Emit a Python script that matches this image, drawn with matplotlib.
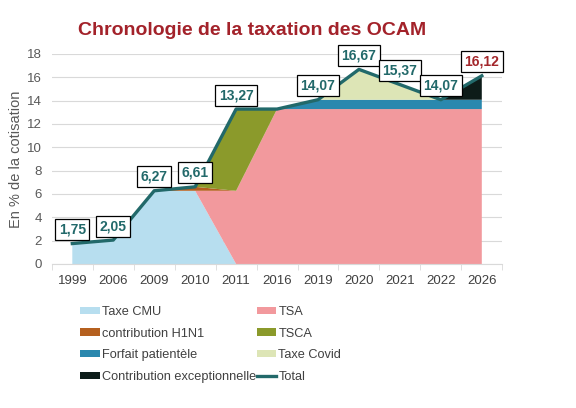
import matplotlib
matplotlib.use("Agg")
import matplotlib.pyplot as plt
from matplotlib.patches import Patch
from matplotlib.lines import Line2D
import numpy as np

plt.rcParams['font.family'] = ['Liberation Sans', 'DejaVu Sans']

years = ['1999', '2006', '2009', '2010', '2011', '2016', '2019', '2020', '2021', '2022', '2026']
taxe_cmu = [1.75, 2.05, 6.27, 6.27, 0, 0, 0, 0, 0, 0, 0]
tsa = [0, 0, 0, 0, 6.27, 13.27, 13.27, 13.27, 13.27, 13.27, 13.27]
h1n1 = [0, 0, 0, 0.34, 0, 0, 0, 0, 0, 0, 0]
tsca = [0, 0, 0, 0, 7.0, 0, 0, 0, 0, 0, 0]
forfait = [0, 0, 0, 0, 0, 0, 0.8, 0.8, 0.8, 0.8, 0.8]
covid = [0, 0, 0, 0, 0, 0, 0, 2.6, 1.3, 0, 0]
exceptionnelle = [0, 0, 0, 0, 0, 0, 0, 0, 0, 0, 2.05]
total = [1.75, 2.05, 6.27, 6.61, 13.27, 13.27, 14.07, 16.67, 15.37, 14.07, 16.12]
total_labels = ['1,75', '2,05', '6,27', '6,61', '13,27', '13,27', '14,07', '16,67', '15,37', '14,07', '16,12']
show_label = [True, True, True, True, True, False, True, True, True, True, True]

series_names = ['Taxe CMU', 'TSA', 'contribution H1N1', 'TSCA',
                'Forfait patientèle', 'Taxe Covid', 'Contribution exceptionnelle']
colors = ['#B7DEEF', '#F2999D', '#B5601F', '#8B9A2B', '#2A88AE', '#DDE5B6', '#0D1C19']
line_color = '#22696A'

fig = plt.figure(figsize=(5.76, 4.08), dpi=100)
ax = fig.add_axes([0.09, 0.353, 0.782, 0.515])

x = np.arange(len(years))
ax.stackplot(x, taxe_cmu, tsa, h1n1, tsca, forfait, covid, exceptionnelle,
             colors=colors, linewidth=0, zorder=2)
ax.plot(x, total, color=line_color, linewidth=2.4, zorder=3, solid_joinstyle='round')

for i, (v, lab, s) in enumerate(zip(total, total_labels, show_label)):
    if not s:
        continue
    col = '#A3262B' if i == len(total) - 1 else line_color
    ax.annotate(lab, (i, v), xytext=(0, 10), textcoords='offset points',
                ha='center', va='center', fontsize=10, fontweight='bold', color=col,
                bbox=dict(boxstyle='square,pad=0.25', fc='white', ec='black', lw=0.9),
                zorder=5)

ax.set_xlim(-0.5, len(years) - 0.5)
ax.set_ylim(0, 18)
ax.set_yticks(np.arange(0, 19, 2))
ax.set_xticks(x)
ax.set_xticklabels(years)
ax.set_xticks(np.arange(-0.5, len(years), 1), minor=True)
ax.tick_params(axis='x', which='major', length=0, pad=8, labelsize=9.5, labelcolor='#404040')
ax.tick_params(axis='x', which='minor', length=4, color='#D9D9D9')
ax.tick_params(axis='y', length=0, pad=7, labelsize=9.5, labelcolor='#595959')
ax.grid(axis='y', color='#D9D9D9', linewidth=0.8, zorder=0)
ax.set_axisbelow(True)
for sp in ['top', 'right', 'left']:
    ax.spines[sp].set_visible(False)
ax.spines['bottom'].set_color('#D9D9D9')
ax.set_ylabel('En % de la cotisation', fontsize=10.5, color='#595959', labelpad=3)

fig.text(0.438, 0.926, 'Chronologie de la taxation des OCAM', ha='center', va='center',
         fontsize=14, fontweight='bold', color='#A3222A')

handles = [Patch(facecolor=c, edgecolor='none') for c in colors]
handles.append(Line2D([0], [0], color=line_color, linewidth=2.4))
labels = series_names + ['Total']
order_col1 = [0, 2, 4, 6]
order_col2 = [1, 3, 5, 7]
h_ord = [handles[i] for i in order_col1] + [handles[i] for i in order_col2]
l_ord = [labels[i] for i in order_col1] + [labels[i] for i in order_col2]
leg = fig.legend(h_ord, l_ord, ncol=2, loc='upper left', bbox_to_anchor=(0.139, 0.25),
                 frameon=False, fontsize=9.2, handlelength=1.55, handleheight=0.5,
                 handletextpad=0.15, columnspacing=0.05, labelspacing=0.75,
                 borderaxespad=0, borderpad=0)
for t in leg.get_texts():
    t.set_color('#404040')

fig.savefig('out.png', dpi=100)
